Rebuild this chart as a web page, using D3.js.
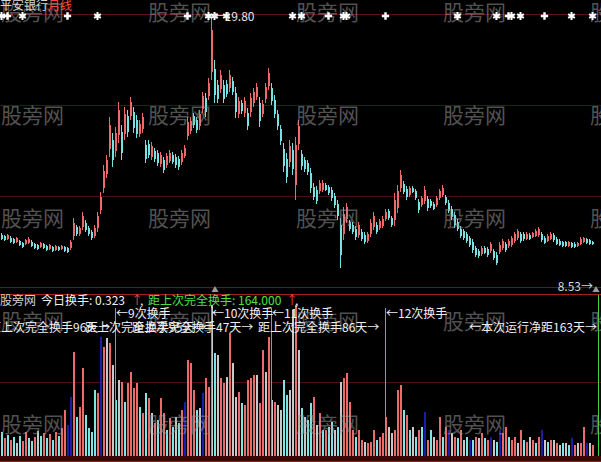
<!DOCTYPE html>
<html><head><meta charset="utf-8">
<script src="https://cdn.jsdelivr.net/npm/d3@7"></script>
<style>html,body{margin:0;padding:0;background:#000;overflow:hidden}svg{display:block}</style>
</head><body>
<script>
// 平安银行 monthly bars: open / high / low / close
const openP = [11.10,11.03,10.93,10.98,10.91,10.81,10.83,10.75,10.73,10.78,
10.82,10.71,10.67,10.61,10.71,10.63,10.53,10.59,10.49,10.60,
10.52,10.59,10.55,10.56,11.06,11.39,11.12,11.42,11.58,11.36,
11.20,11.06,11.36,12.10,12.98,13.54,14.52,14.89,14.44,15.09,
15.20,15.14,15.86,15.86,15.99,15.70,15.14,15.32,14.70,14.74,
14.22,14.45,14.35,13.92,14.07,13.88,14.06,14.30,14.21,14.13,
14.00,14.26,15.06,15.26,15.84,15.67,15.44,16.13,16.57,16.66,
17.60,17.74,17.10,16.94,17.10,17.14,16.98,17.26,16.75,15.93,
16.37,15.96,15.98,15.99,16.35,16.62,16.36,15.94,16.52,17.06,
16.98,16.50,15.92,15.32,14.53,14.12,14.02,14.50,13.08,14.72,
14.32,14.08,13.96,13.56,13.02,12.90,12.83,12.90,13.10,13.00,
12.89,12.64,12.32,11.50,11.14,11.72,11.59,11.50,11.33,11.09,
11.22,11.10,10.85,11.14,11.42,11.50,11.37,11.46,11.74,12.03,
11.75,11.70,12.18,12.98,13.14,12.93,12.69,12.98,12.83,12.41,
12.29,12.46,12.52,12.45,12.34,12.29,12.57,12.70,12.60,12.38,
12.13,11.87,11.62,11.34,11.23,11.11,10.95,10.81,10.55,10.45,
10.32,10.58,10.52,10.45,10.43,10.30,10.42,10.57,10.72,10.63,
10.69,10.85,10.97,11.11,11.13,10.94,11.10,11.01,11.06,11.08,
11.12,10.98,10.86,10.94,11.09,10.94,10.86,10.79,10.79,10.65,
10.75,10.74,10.64,10.74,10.81,10.91,10.87,10.80];
const highP = [11.16,11.08,11.12,11.04,10.96,11.00,10.88,10.80,10.92,11.00,
10.88,10.76,10.72,10.80,10.76,10.68,10.72,10.64,10.68,10.64,
10.68,10.64,10.60,10.88,11.76,11.48,11.44,12.00,11.68,11.44,
11.28,11.48,12.00,12.80,13.88,14.28,15.80,15.16,15.40,16.40,
15.48,16.20,16.08,16.60,16.20,15.88,15.68,15.96,14.88,14.88,
14.80,14.56,14.48,14.40,14.20,14.36,14.48,14.40,14.32,14.24,
14.48,14.68,15.80,15.80,15.96,15.80,16.08,16.80,16.76,17.36,
19.80,18.08,17.28,17.68,17.28,17.28,17.68,17.40,17.00,16.60,
16.48,16.60,16.16,16.76,16.96,17.16,16.60,16.48,17.16,17.76,
17.16,16.68,16.08,15.48,14.76,14.36,14.88,14.76,15.00,15.68,
14.48,14.20,14.08,13.76,13.16,13.04,13.28,13.28,13.16,13.08,
13.00,12.76,12.48,11.76,12.20,12.36,11.68,11.60,11.44,11.60,
11.32,11.20,11.20,11.72,12.00,11.60,11.72,11.84,12.12,12.12,
11.84,12.76,13.08,13.68,13.24,13.04,13.04,13.04,12.92,12.52,
12.64,13.04,12.64,12.52,12.40,12.64,12.92,13.08,12.68,12.48,
12.24,12.00,11.72,11.44,11.32,11.20,11.04,10.92,10.64,10.52,
10.64,10.64,10.60,10.80,10.52,10.40,10.80,10.92,10.80,10.92,
11.04,11.20,11.32,11.20,11.20,11.20,11.16,11.20,11.32,11.40,
11.20,11.04,11.12,11.20,11.16,11.00,10.92,10.84,10.84,10.84,
10.80,10.80,10.80,11.00,11.00,10.96,10.92,10.84];
const lowP = [10.88,10.84,10.88,10.76,10.72,10.76,10.64,10.56,10.68,10.72,
10.60,10.52,10.48,10.56,10.52,10.44,10.48,10.40,10.44,10.44,
10.48,10.40,10.36,10.48,10.88,11.04,11.04,11.28,11.20,11.04,
10.88,10.96,11.20,11.92,12.76,13.36,14.20,13.80,14.20,14.76,
14.08,14.88,15.00,15.68,15.16,14.96,15.00,15.16,13.96,14.16,
14.08,14.00,13.84,13.80,13.56,13.76,13.96,13.92,13.76,13.68,
13.88,14.16,14.88,15.12,15.36,15.16,15.28,15.96,15.80,16.48,
17.28,16.36,16.36,16.76,16.36,16.60,16.80,16.68,15.76,15.76,
15.92,15.80,15.28,15.80,16.20,16.48,15.40,15.80,16.36,16.88,
16.28,15.76,15.28,14.68,13.60,13.16,13.80,13.48,12.48,14.48,
13.68,13.60,13.48,12.76,12.48,12.32,12.72,12.80,12.84,12.68,
12.44,12.16,11.68,9.76,10.88,11.56,11.24,11.12,10.88,10.96,
10.84,10.72,10.76,11.00,11.28,11.12,11.28,11.36,11.64,11.68,
11.40,11.44,11.96,12.80,12.72,12.48,12.60,12.76,12.48,11.96,
12.20,12.32,12.04,12.16,12.08,12.20,12.48,12.60,12.28,11.96,
11.68,11.36,11.24,10.96,10.88,10.76,10.60,10.36,10.20,10.16,
10.24,10.32,10.20,10.36,10.08,9.88,10.32,10.48,10.40,10.56,
10.60,10.76,10.88,10.76,10.84,10.88,10.88,10.96,11.00,11.00,
10.80,10.72,10.80,10.88,10.80,10.68,10.64,10.60,10.60,10.60,
10.56,10.56,10.60,10.68,10.76,10.72,10.68,10.68];
const closeP = [10.94,10.89,11.07,10.82,10.77,10.95,10.69,10.61,10.87,10.94,
10.66,10.57,10.53,10.75,10.57,10.49,10.67,10.45,10.63,10.48,
10.64,10.45,10.41,10.80,11.58,11.13,11.36,11.86,11.30,11.12,
10.96,11.38,11.84,12.62,13.66,14.10,15.48,14.07,15.16,16.07,
14.36,15.94,15.22,16.42,15.37,15.14,15.54,15.80,14.14,14.30,
14.66,14.11,13.97,14.28,13.69,14.24,14.38,14.02,13.87,13.79,
14.36,14.58,15.62,15.66,15.48,15.29,15.92,16.63,15.99,17.18,
19.30,16.70,16.54,17.50,16.54,16.74,17.50,16.82,16.01,16.43,
16.03,16.44,15.46,16.57,16.81,17.02,15.64,16.34,17.00,17.58,
16.46,15.94,15.44,14.84,13.83,13.40,14.66,13.74,14.68,15.44,
13.84,13.72,13.60,12.96,12.62,12.46,13.17,13.18,12.90,12.76,
12.55,12.28,11.84,10.30,11.94,12.20,11.33,11.22,10.99,11.47,
10.94,10.82,11.11,11.58,11.86,11.22,11.63,11.74,12.02,11.77,
11.49,12.50,12.86,13.50,12.82,12.59,12.95,12.82,12.57,12.07,
12.55,12.90,12.16,12.23,12.14,12.55,12.83,12.98,12.36,12.06,
11.79,11.49,11.34,11.06,10.97,10.85,10.69,10.47,10.29,10.23,
10.56,10.38,10.28,10.71,10.17,9.98,10.70,10.83,10.48,10.85,
10.95,11.11,11.23,10.85,10.91,11.14,10.94,11.15,11.26,11.32,
10.88,10.78,11.06,11.14,10.87,10.74,10.70,10.65,10.65,10.79,
10.61,10.62,10.76,10.94,10.95,10.77,10.73,10.72];

// turnover volume per bar
const volume = [24,18,21,16,19,13,20,15,24,18,
15,19,25,20,23,18,22,16,24,20,
28,46,31,59,104,39,49,88,41,28,
24,66,63,119,109,118,113,91,56,76,
74,54,73,84,68,73,49,43,63,58,
43,33,36,58,43,26,38,29,39,33,
46,54,96,93,66,46,48,63,78,69,
151,103,101,78,73,79,123,93,59,64,
53,51,76,78,81,81,53,106,84,119,
56,54,51,46,76,61,66,146,151,106,
48,39,36,53,59,31,43,26,26,29,
34,26,29,74,78,83,54,26,19,26,
16,14,13,14,26,16,19,23,39,29,
23,26,66,71,46,41,26,29,19,26,
29,44,16,26,19,16,39,19,29,26,
23,19,18,26,16,19,16,16,19,18,
23,18,16,19,16,14,26,23,29,19,
16,19,13,26,16,14,19,16,13,19,
26,16,14,16,16,13,11,13,13,11,
18,11,13,13,29,13,13,11];
// volume class per bar: r = rising, c = falling, w = flat, b = shrinking
const volKind = ("crcrcwcrrc"+"crwcrcrcrc"+"rrbbrcrrcc"+"ccrbrwrwcw"+"rcrrrrcrcr"+
  "wrcrrcrcwc"+"rbrrrcwbrr"+"wcwrrwrwwr"+"crrrrwrrwr"+"wrwwccwwrw"+
  "cwccrwrcrc"+"cwcwrrrrcr"+"rwrrrcrrrw"+"wrrrcrcwcr"+"cbrcwrrcrb"+
  "wrcrwcbcrw"+"rcrbwcbrrc"+"rrwrcrwrcr"+"bwcrwrwcwc"+"brwrrbwr").split("");

// signal bars along the top row
const starBars = [0,7,32,69,71,75,97,100,114,115,152,165,170,173,190,197];
const crossBars = [2,22,62,109,128,169,181];

// completed full-turnover bars, their ordinal and the gap in days before each
const fullTurnBars = [38,70,90,128];
const turnOrdinal = [9,10,11,12];
const gapDays = [96,95,47,86];
const runEndBar = 199;
const runDays = 163;
const todayTurn = "0.323";
const sinceFull = "164.000";
const peakPrice = 19.80;
const peakBar = 70;
const floorMark = "8.53";

const W = 601, H = 462;
const FONT = "'Noto Sans CJK SC','Noto Sans',sans-serif";
const svg = d3.select("body").append("svg").attr("width", W).attr("height", H)
  .style("background", "#000");

const x = d3.scaleLinear().domain([0, 1]).range([1.5, 4.5]);
const px = i => Math.floor(x(i));          // left pixel column of a bar
const yP = d3.scaleLinear().domain([9.0, 19.80]).range([287, 17]);
const yV = d3.scaleLinear().domain([0, 156]).range([456, 300]);

const UP = "#ee6a6a", DOWN = "#78e2e2";
const volColor = {r: "#ec6a6a", c: "#7ee4e4", w: "#c8c8c8", b: "#1c1ca8"};

// pane frame lines
const frame = svg.append("g");
[[14, "#5e1414"], [105, "#4a1010"], [196, "#4a1010"], [287, "#6a1616"], [294, "#a81e1e"], [382, "#4a1010"]]
  .forEach(([yy, c]) => frame.append("line").attr("x1", 0).attr("x2", W).attr("y1", yy + 0.5).attr("y2", yy + 0.5)
    .attr("stroke", c).attr("stroke-width", 1));
frame.append("rect").attr("x", 0).attr("y", 456).attr("width", W).attr("height", 5).attr("fill", "#3a0606");
frame.append("line").attr("x1", 0).attr("x2", W).attr("y1", 461.5).attr("y2", 461.5).attr("stroke", "#a01c1c");

const idx = d3.range(closeP.length);

// volume bars
svg.append("g").attr("shape-rendering", "crispEdges").selectAll("rect").data(idx).join("rect")
  .attr("x", i => px(i)).attr("width", 2)
  .attr("y", i => yV(volume[i])).attr("height", i => yV(0) - yV(volume[i]))
  .attr("fill", i => volColor[volKind[i]]);

// candles
const cg = svg.append("g").attr("shape-rendering", "crispEdges");
cg.selectAll("line").data(idx).join("line")
  .attr("x1", i => px(i) + 0.5).attr("x2", i => px(i) + 0.5)
  .attr("y1", i => yP(highP[i])).attr("y2", i => yP(lowP[i]))
  .attr("stroke", i => closeP[i] >= openP[i] ? UP : DOWN).attr("stroke-width", 1);
cg.selectAll("rect").data(idx).join("rect")
  .attr("x", i => px(i)).attr("width", 2)
  .attr("y", i => yP(Math.max(openP[i], closeP[i])))
  .attr("height", i => Math.max(1, Math.abs(yP(openP[i]) - yP(closeP[i]))))
  .attr("fill", i => closeP[i] >= openP[i] ? UP : DOWN);

// full-turnover marker lines
const gl = svg.append("g").attr("shape-rendering", "crispEdges");
fullTurnBars.forEach(b => gl.append("line").attr("x1", px(b) + 0.5).attr("x2", px(b) + 0.5).attr("y1", 308).attr("y2", 456)
  .attr("stroke", "#3fd23f").attr("stroke-width", 1));
gl.append("line").attr("x1", px(runEndBar) + 0.5).attr("x2", px(runEndBar) + 0.5).attr("y1", 295).attr("y2", 456)
  .attr("stroke", "#3fd23f").attr("stroke-width", 1);

// watermark
const wm = svg.append("g").attr("font-family", FONT).attr("font-size", 21).attr("fill", "#9a9a9a").attr("fill-opacity", 0.55);
[20, 123, 226, 329, 432].forEach(by => [1, 148, 296, 443, 590].forEach(bx =>
  wm.append("text").attr("x", bx).attr("y", by).text("股旁网")));

// small markers on the pane boundary
const tri = d3.symbol().type(d3.symbolTriangle).size(22);
[215, 596].forEach(tx => svg.append("path").attr("d", tri()).attr("transform", `translate(${tx},290)`).attr("fill", "#9a9a9a"));

// signal row
const sg = svg.append("g");
starBars.forEach(b => sg.append("path").attr("d", d3.symbol().type(d3.symbolAsterisk).size(42)())
  .attr("transform", `translate(${x(b)},16)`).attr("stroke", "#fff").attr("stroke-width", 2).attr("fill", "none"));
crossBars.forEach(b => sg.append("path").attr("d", d3.symbol().type(d3.symbolCross).size(30)())
  .attr("transform", `translate(${x(b)},16)`).attr("fill", "#fff"));

// texts
const t = svg.append("g").attr("font-family", FONT).attr("font-size", 12);
const txt = (s, xx, yy, fill, anchor) => t.append("text").attr("x", xx).attr("y", yy)
  .attr("fill", fill).attr("text-anchor", anchor || "start").text(s);

txt("平安银行", 0, 10, "#d4d4d4");
txt("月线", 48, 10, "#ff4a4a");
txt("←" + peakPrice.toFixed(2), x(peakBar) + 1, yP(peakPrice) + 4, "#e6e6e6");
txt(floorMark + "→", 593, 291, "#d8d8d8", "end");

txt("股旁网", 0, 305, "#d0d0d0");
txt("今日换手: " + todayTurn, 41, 305, "#f0f0f0");
txt("↑", 131, 305, "#ff4040");
txt(",", 140, 305, "#f0f0f0");
txt("距上次完全换手: " + sinceFull, 148, 305, "#4ce04c");
txt("↑", 286, 305, "#ff4040");
txt(",", 295, 305, "#f0f0f0");

fullTurnBars.forEach((b, k) => txt("←" + turnOrdinal[k] + "次换手", px(b) + 1, 318, "#f0f0f0"));
const gapStarts = [-11, 85, 132, 258];
gapDays.forEach((d, k) => txt("距上次完全换手" + d + "天→", gapStarts[k], 332, "#f0f0f0"));
txt("←本次运行净距" + runDays + "天→", px(runEndBar) - 1, 332, "#f0f0f0", "end");
</script>
</body></html>
